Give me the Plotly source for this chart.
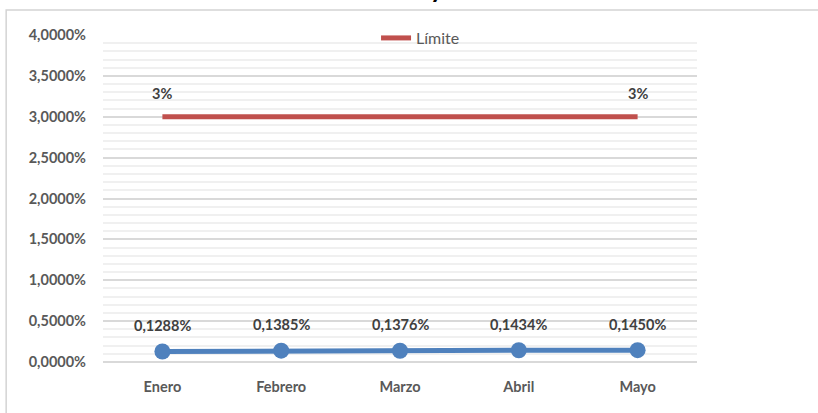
import plotly.graph_objects as go

months = ["Enero", "Febrero", "Marzo", "Abril", "Mayo"]
indice = [0.001288, 0.001385, 0.001376, 0.001434, 0.001450]
limite = [0.03, 0.03, 0.03, 0.03, 0.03]
limite_labels = ["3%", "", "", "", "3%"]

W, H = 818, 413
L, R, T, B = 102.5, 818 - 697.5, 35, 413 - 362.5
pw, ph = W - L - R, H - T - B

def px_x(p):
    return (p - L) / pw

def px_y(p):
    return (H - B - p) / ph

FONT = "Lato"
fig = go.Figure()
fig.add_trace(go.Scatter(
    x=months, y=limite, mode="lines", name="Límite",
    line=dict(color="#C0504D", width=5), showlegend=True, hoverinfo="skip"))
fig.add_trace(go.Scatter(
    x=months, y=indice, mode="lines+markers", name="Índice",
    line=dict(color="#4F81BD", width=5),
    marker=dict(color="#4F81BD", size=16), showlegend=False))

for m, v in zip(months, indice):
    fig.add_annotation(x=m, y=v, text=f"{v*100:.4f}%".replace(".", ","),
                       showarrow=False, yshift=26,
                       font=dict(family=FONT, size=14.5, color="#404040", weight="bold"))
for m, v, t in zip(months, limite, limite_labels):
    if t:
        fig.add_annotation(x=m, y=v, text=t, showarrow=False, yshift=23,
                           font=dict(family=FONT, size=14.5, color="#404040", weight="bold"))

# clipped title remnant
fig.add_annotation(xref="paper", yref="paper", x=px_x(437), y=px_y(6),
                   xanchor="center", yanchor="bottom",
                   text="y", showarrow=False,
                   font=dict(family=FONT, size=26, color="#000000", weight="bold"))

fig.add_shape(type="rect", xref="paper", yref="paper",
              x0=px_x(5.5), x1=px_x(830), y0=px_y(430), y1=px_y(10),
              line=dict(color="#D4D4D4", width=1.5), fillcolor="rgba(0,0,0,0)", layer="above")

fig.update_layout(
    width=W, height=H,
    margin=dict(l=L, r=R, t=T, b=B, pad=0, autoexpand=False),
    paper_bgcolor="white", plot_bgcolor="white",
    separators=",.",
    font=dict(family=FONT, color="#595959"),
    legend=dict(orientation="h", x=px_x(376), y=px_y(21), xanchor="left", yanchor="top",
                font=dict(family=FONT, size=16, color="#595959"),
                bgcolor="rgba(0,0,0,0)"),
    xaxis=dict(range=[-0.5, 4.5], showgrid=False, showline=False, zeroline=False, ticks="",
               tickfont=dict(family=FONT, size=14.5, color="#595959", weight="bold"),
               ticklabelstandoff=14),
    yaxis=dict(range=[0, 0.04], tickformat=".4%", dtick=0.005,
               showgrid=True, gridcolor="#D9D9D9", gridwidth=1.5,
               zeroline=True, zerolinecolor="#D9D9D9", zerolinewidth=1.5,
               showline=False, ticks="",
               minor=dict(dtick=0.001, showgrid=True, gridcolor="#F0F0F0", gridwidth=1.5),
               tickfont=dict(family=FONT, size=14.5, color="#595959", weight="bold"),
               ticklabelstandoff=16),
)
fig.write_html("out.html", config={"displayModeBar": False},
               post_script="document.body.style.margin='0';")
